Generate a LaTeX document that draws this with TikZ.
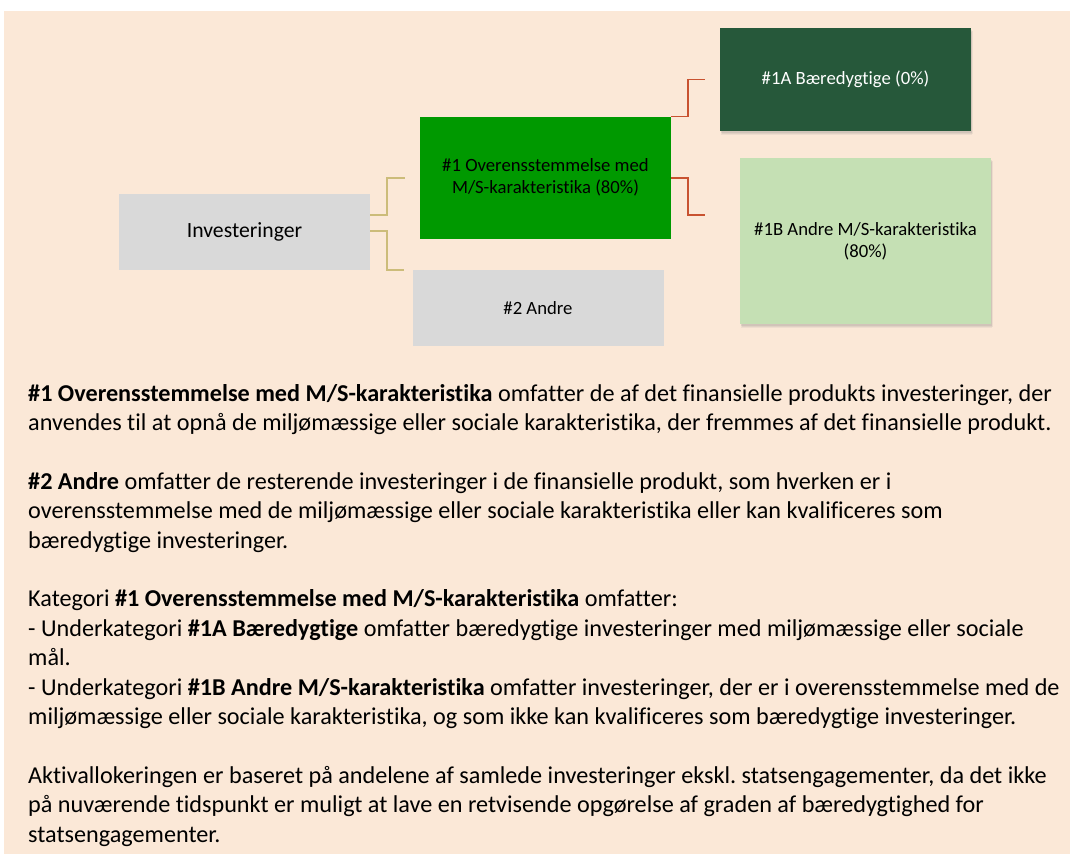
\documentclass[tikz,border=0pt]{standalone}
\usepackage{fontspec}
\setmainfont{Carlito}[Ligatures={NoCommon}]
\usetikzlibrary{shadows}
\frenchspacing
\definecolor{bg}{RGB}{251,232,215}
\definecolor{boxgray}{RGB}{217,217,217}
\definecolor{midgreen}{RGB}{0,153,0}
\definecolor{darkgreen}{RGB}{38,88,58}
\definecolor{lightgreen}{RGB}{197,224,180}
\definecolor{tanline}{RGB}{204,188,122}
\definecolor{redline}{RGB}{200,82,48}
\begin{document}
\begin{tikzpicture}[x=1pt,y=-1pt,
  box/.style={rectangle, inner sep=2pt, align=center, text=black, font=\fontsize{18.7}{22}\selectfont},
  shad/.style={
    drop shadow={opacity=0.10, shadow xshift=1pt, shadow yshift=-4pt},
    drop shadow={opacity=0.12, shadow xshift=1.5pt, shadow yshift=-3pt},
    drop shadow={opacity=0.15, shadow xshift=1pt, shadow yshift=-1.5pt}},
  tanconn/.style={draw=tanline, line width=1.8pt},
  redconn/.style={draw=redline, line width=1.8pt},
  bodytext/.style={anchor=base west, inner sep=0pt, font=\frenchspacing\fontsize{24.2}{28}\selectfont}
]
\useasboundingbox (0,0) rectangle (1070,854);
\fill[bg] (4,11) rectangle (1070,854);

% boxes
\node[box, fill=boxgray, minimum width=251pt, minimum height=76pt, font=\fontsize{21.7}{25}\selectfont] (inv) at (244.5,231.5) {Investeringer};
\node[box, fill=midgreen, minimum width=251pt, minimum height=122pt] (one) at (545.5,177.7) {\#1 Overensstemmelse med\\M/S-karakteristika (80\%)};
\node[box, fill=boxgray, minimum width=251pt, minimum height=76pt] (two) at (538,308) {\#2 Andre};
\node[box, fill=darkgreen, text=white, minimum width=251pt, minimum height=103pt, shad] (oa) at (845.5,79.5) {\#1A Bæredygtige (0\%)};
\node[box, fill=lightgreen, minimum width=251pt, minimum height=166pt, shad] (ob) at (865.5,241) {\#1B Andre M/S-karakteristika\\(80\%)};

% connectors
\draw[tanconn] ([yshift=16.5pt]inv.east) -- ++(17,0) |- ([xshift=-15pt]one.west);
\draw[tanconn] ([yshift=0.5pt]inv.east) -- ++(17,0) |- ([xshift=-8pt]two.north west);
\draw[redconn] (one.north east) -- ++(17,0) |- ([xshift=-15pt]oa.west);
\draw[redconn] (one.east) -- ++(17,0) |- ([xshift=-35pt,yshift=26pt]ob.west);

% body text
\node[bodytext] (t1) at (28,401) {\textbf{\#1 Overensstemmelse med M/S-karakteristika} omfatter de af det finansielle produkts investeringer, der};
\node[bodytext] (t2) at (28,430.4) {anvendes til at opnå de miljømæssige eller sociale karakteristika, der fremmes af det finansielle produkt.};
\node[bodytext] (t3) at (28,489.2) {\textbf{\#2 Andre} omfatter de resterende investeringer i de finansielle produkt, som hverken er i};
\node[bodytext] (t4) at (28,518.6) {overensstemmelse med de miljømæssige eller sociale karakteristika eller kan kvalificeres som};
\node[bodytext] (t5) at (28,548) {bæredygtige investeringer.};
\node[bodytext] (t6) at (28,606.8) {Kategori \textbf{\#1 Overensstemmelse med M/S-karakteristika} omfatter:};
\node[bodytext] (t7) at (28,636.2) {- Underkategori \textbf{\#1A Bæredygtige} omfatter bæredygtige investeringer med miljømæssige eller sociale};
\node[bodytext] (t8) at (28,665.6) {mål.};
\node[bodytext] (t9) at (28,695) {- Underkategori \textbf{\#1B Andre M/S-karakteristika} omfatter investeringer, der er i overensstemmelse med de};
\node[bodytext] (t10) at (28,724.4) {miljømæssige eller sociale karakteristika, og som ikke kan kvalificeres som bæredygtige investeringer.};
\node[bodytext] (t11) at (28,783.2) {Aktivallokeringen er baseret på andelene af samlede investeringer ekskl. statsengagementer, da det ikke};
\node[bodytext] (t12) at (28,812.6) {på nuværende tidspunkt er muligt at lave en retvisende opgørelse af graden af bæredygtighed for};
\node[bodytext] (t13) at (28,842) {statsengagementer.};
\end{tikzpicture}
\end{document}
